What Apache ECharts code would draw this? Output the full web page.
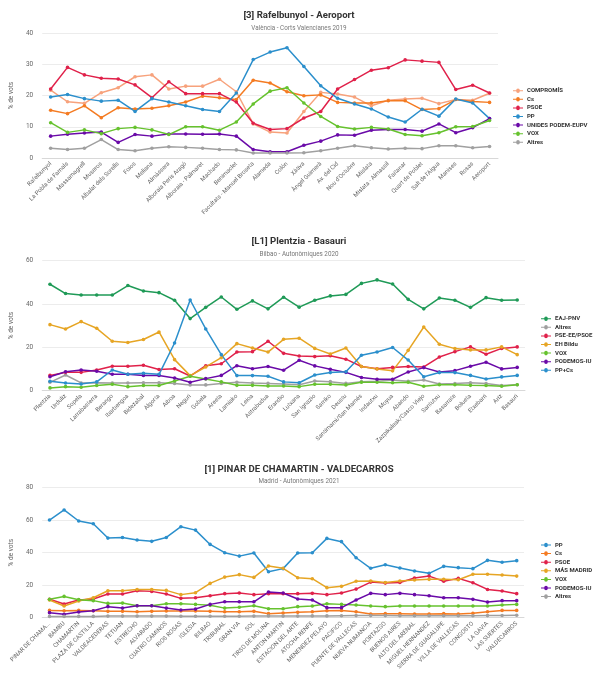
<!DOCTYPE html>
<html><head><meta charset="utf-8">
<script src="https://cdn.jsdelivr.net/npm/echarts@6/dist/echarts.min.js"></script>
<style>html,body{margin:0;padding:0;background:#fff;width:598px;height:680px;overflow:hidden}
.c{position:absolute;left:0;width:598px}</style>
</head><body>
<div id="c1" class="c" style="top:0;height:226px"></div>
<div id="c2" class="c" style="top:226px;height:228px"></div>
<div id="c3" class="c" style="top:454px;height:226px"></div>
<script>
// ---------- Chart 1 data ----------
const c1Cats = ['Rafelbunyol','La Pobla de Farnals','Massamagrell','Museros','Albalat dels Sorells','Foios','Meliana','Almàssera','Alboraia Peris Aragó','Alboraia - Palmaret','Machado','Benimaclet','Facultats - Manuel Broseta','Alameda','Colón','Xàtiva','Àngel Guimerà','Av. del Cid',"Nou d'Octubre",'Mislata','Mislata - Almassil','Faitanar','Quart de Poblet',"Salt de l'Aigua",'Manises','Rosas','Aeroport'];
const c1Compromis = [21.7,18.0,17.5,20.9,22.5,26.0,26.6,22.1,23.0,23.0,25.2,21.2,10.9,8.3,8.0,14.9,21.0,20.5,19.5,16.7,18.5,18.9,19.1,17.4,18.7,18.5,20.7];
const c1Cs = [15.3,14.2,16.7,12.9,16.1,15.7,15.9,16.7,17.9,19.8,19.3,18.7,24.9,24.0,21.2,19.9,20.2,17.8,17.6,17.6,18.3,18.3,15.5,15.8,18.7,18.1,17.8];
const c1Psoe = [22.1,29.0,26.6,25.5,25.3,23.4,19.3,24.4,20.6,20.6,20.6,17.9,11.1,9.1,9.4,12.8,14.9,22.1,25.1,28.1,28.9,31.4,31.0,30.6,21.9,23.3,20.8];
const c1Pp = [19.5,20.3,19.0,18.2,18.5,14.9,19.0,17.9,16.7,15.5,14.9,20.8,31.5,33.9,35.3,29.3,23.1,19.1,17.3,15.7,13.1,11.5,15.6,13.4,18.9,17.6,12.6];
const c1Unides = [7.0,7.6,8.0,8.3,5.0,7.5,7.0,7.7,7.7,7.6,7.7,7.0,2.7,2.0,2.0,4.1,5.4,7.4,7.3,8.9,9.1,9.1,8.6,10.9,8.1,9.7,12.6];
const c1Vox = [11.3,8.2,9.0,7.8,9.4,9.8,9.0,7.5,10.0,10.0,8.9,11.5,17.3,21.4,22.5,17.6,13.3,10.1,9.3,9.8,9.3,7.5,7.1,8.1,10.0,10.1,12.0];
const c1Altres = [3.1,2.7,3.1,5.9,2.7,2.3,3.1,3.6,3.4,3.1,2.7,2.6,1.6,1.6,1.6,1.7,2.3,3.1,3.9,3.3,2.9,3.1,3.0,3.9,3.9,3.3,3.7];

// ---------- Chart 2 data ----------
const c2Cats = ['Plentzia','Urduliz','Sopela','Larrabasterra','Berango','Ibarbengoa','Bidezabal','Algorta','Aiboa','Neguri','Gobela','Areeta','Lamiako','Leioa','Astrabudua','Erandio','Lutxana','San Ignazio','Sarriko','Deustu','Santimami/San Mamés','Indautxu','Moyua','Abando','Zazpikaleak/Casco Viejo','Santutxu','Basarrate','Bolueta','Etxebarri','Ariz','Basauri'];
const c2Eaj = [49.1,44.8,44.1,44.1,44.1,48.5,46.0,45.2,41.7,33.2,38.4,43.2,37.5,41.4,37.7,43.1,38.5,41.7,43.7,44.4,49.5,51.1,49.2,42.1,37.7,42.7,41.7,38.4,42.9,41.7,41.8];
const c2Altres = [3.7,7.1,3.4,3.5,3.4,3.4,3.5,3.5,3.2,2.5,2.5,3.2,3.7,3.4,3.2,2.9,2.6,4.3,4.0,3.2,4.0,4.2,4.8,4.2,4.8,2.9,3.1,3.5,3.1,2.2,2.6];
const c2Pse = [6.9,8.3,8.3,9.4,11.1,11.1,11.6,9.6,10.0,6.6,11.4,12.3,17.7,17.9,22.7,17.1,15.9,15.6,16.0,14.4,11.0,10.0,10.6,11.0,10.8,15.4,17.9,20.1,16.7,19.4,20.1];
const c2Bildu = [30.4,28.4,31.8,28.7,22.7,22.1,23.5,27.0,14.2,6.8,10.8,15.1,21.6,19.6,17.7,23.6,24.1,19.4,16.8,19.6,11.0,9.9,9.0,18.5,29.3,21.3,19.3,18.7,18.7,20.1,16.5];
const c2Vox = [1.1,1.7,1.4,2.2,2.8,1.7,2.2,2.2,4.3,6.5,5.2,3.9,2.3,2.3,2.0,2.0,1.7,2.8,2.8,2.5,3.7,3.7,3.5,3.7,1.9,2.6,2.6,2.3,2.2,1.9,2.6];
const c2Podemos = [6.3,8.6,9.4,8.8,7.4,7.4,6.9,6.9,5.7,3.7,5.4,6.9,11.4,10.0,11.0,9.3,13.9,11.3,9.7,8.3,5.9,5.1,5.1,8.5,10.5,8.5,9.1,11.1,13.0,9.9,10.6];
const c2PpCs = [4.2,3.4,2.9,3.9,9.4,7.4,7.9,7.4,21.9,41.8,28.4,16.5,6.8,6.8,6.5,3.9,3.5,7.1,8.2,8.6,16.2,17.7,19.8,14.0,6.3,8.2,8.2,6.9,5.2,6.2,6.9];

// ---------- Chart 3 data ----------
const c3Cats = ['PINAR DE CHAMA...','BAMBU','CHAMARTIN','PLAZA DE CASTILLA','VALDEACEDERAS','TETUAN','ESTRECHO','ALVARADO','CUATRO CAMINOS','RIOS ROSAS','IGLESIA','BILBAO','TRIBUNAL','GRAN VIA','SOL','TIRSO DE MOLINA','ANTON MARTIN','ESTACION DEL ARTE','ATOCHA RENFE','MENENDEZ PELAYO','PACIFICO','PUENTE DE VALLECAS','NUEVA NUMANCIA','PORTAZGO','BUENOS AIRES','ALTO DEL ARENAL','MIGUEL HERNANDEZ','SIERRA DE GUADALUPE','VILLA DE VALLECAS','CONGOSTO','LA GAVIA','LAS SUERTES','VALDECARROS'];
const c3Pp = [60.1,66.3,59.5,57.8,49.0,49.4,47.8,47.0,49.4,56.0,53.9,45.1,40.0,37.9,39.8,28.3,30.2,39.8,40.0,48.8,46.8,36.9,30.4,32.6,30.6,28.7,27.3,31.6,30.8,30.2,35.3,34.1,35.1];
const c3Cs = [4.5,4.3,4.5,4.3,3.9,3.9,3.7,3.9,4.1,4.1,4.1,3.9,3.7,3.7,3.9,2.5,2.9,3.3,3.7,4.3,4.5,3.7,2.3,2.5,2.5,2.3,2.3,2.5,2.3,2.7,3.7,4.5,4.5];
const c3Psoe = [11.3,8.4,10.9,11.5,14.6,14.6,16.6,16.2,14.6,11.9,12.3,13.5,14.8,15.2,14.2,14.8,14.8,14.8,15.0,14.2,15.2,17.6,21.9,21.3,21.7,24.4,25.6,22.4,24.2,21.5,17.4,16.4,14.8];
const c3Mas = [10.9,7.2,10.3,12.3,16.6,16.6,17.4,17.4,16.8,14.2,15.4,21.1,25.0,26.5,24.8,31.8,30.4,24.6,24.0,18.5,19.3,22.4,22.6,21.7,22.6,23.2,23.6,23.6,23.4,26.7,26.7,26.3,25.6];
const c3Vox = [11.3,13.1,11.1,10.5,8.8,9.0,7.4,7.4,8.6,8.6,8.2,7.6,5.9,6.4,7.4,5.5,5.5,6.8,7.2,8.6,8.2,7.8,7.2,6.8,7.2,7.2,7.2,7.2,7.2,7.2,7.2,7.8,8.2];
const c3Podemos = [3.1,2.1,3.5,4.3,6.8,5.9,7.4,7.4,5.9,4.7,5.3,8.2,9.8,9.8,9.8,15.8,15.2,11.5,10.9,6.2,6.2,10.9,15.0,14.2,15.0,14.2,13.5,12.3,12.3,11.3,9.6,10.5,10.5];
const c3Altres = [0.8,0.8,0.8,0.8,1.0,1.0,1.0,1.0,1.0,0.9,0.9,0.9,0.9,0.9,1.0,1.1,1.0,1.0,1.1,1.1,1.2,1.3,1.3,1.3,1.2,1.2,1.2,1.2,1.2,1.2,1.3,1.4,1.5];

const FONT = 'Roboto, "Noto Sans", sans-serif';
const COL = {
  compromis:'#f7a27c', cs:'#f47b22', psoe:'#e0214a', pp:'#2b8fcc', podem:'#6a0aa8',
  vox:'#66c22e', altres:'#a0a0a0', eaj:'#1f9a57', bildu:'#e6a524'
};

function build(cfg){
  const series = cfg.series.map(s => ({
    name: s.name, type:'line', data: s.data, color: s.color,
    symbol:'circle', symbolSize:3.6, showSymbol:true,
    lineStyle:{width:1.5, color:s.color}, itemStyle:{color:s.color},
    animation:false
  }));
  return {
    animation:false,
    textStyle:{fontFamily:FONT},
    title:[
      {text:cfg.title, left:'center', top:cfg.titleTop,
       textStyle:{fontSize:9.6, fontWeight:'bold', color:'#333', fontFamily:FONT}},
      {text:cfg.sub, left:'center', top:cfg.subTop,
       textStyle:{fontSize:6.3, fontWeight:'normal', color:'#777', fontFamily:FONT}}
    ],
    legend:{
      orient:'vertical', left:cfg.legLeft, top:cfg.legTop,
      itemWidth:10, itemHeight:6, itemGap:2.6,
      icon:'path://M0,2.5 L3.2,2.5 A1.8,1.8 0 1 1 6.8,2.5 L10,2.5 L10,3.5 L6.8,3.5 A1.8,1.8 0 1 1 3.2,3.5 L0,3.5 Z',
      textStyle:{fontSize:6, fontWeight:'bold', color:'#333', lineHeight:6, padding:[0,0,0,-1], fontFamily:FONT},
      data: cfg.series.map(s=>s.name)
    },
    grid:{left:cfg.grid.left, right:cfg.grid.right, top:cfg.grid.top, height:cfg.grid.height, containLabel:false},
    xAxis:{
      type:'category', data:cfg.cats, boundaryGap:true,
      axisLine:{lineStyle:{color:'#d8d8d8', width:1}},
      axisTick:{show:false},
      axisLabel:{interval:0, rotate:45, fontSize:6, color:'#666', margin:5, fontFamily:FONT}
    },
    yAxis:{
      type:'value', min:0, max:cfg.ymax, interval:cfg.yint,
      name:'% de vots', nameLocation:'middle', nameGap:25, nameRotate:90,
      nameTextStyle:{fontSize:6.5, color:'#666', fontFamily:FONT},
      axisLine:{show:false}, axisTick:{show:false},
      axisLabel:{fontSize:6.5, color:'#666', margin:9, fontFamily:FONT},
      splitLine:{lineStyle:{color:'#ececec', width:1}}
    },
    series
  };
}

const ch1 = echarts.init(document.getElementById('c1'), null, {renderer:'canvas'});
ch1.setOption(build({
  title:'[3] Rafelbunyol - Aeroport', sub:'València - Corts Valencianes 2019',
  titleTop:5.8, subTop:20.2,
  legLeft:508, legTop:82.7,
  grid:{left:35, right:100, top:33, height:125},
  cats:c1Cats, ymax:40, yint:10,
  series:[
    {name:'COMPROMÍS', data:c1Compromis, color:COL.compromis},
    {name:'Cs', data:c1Cs, color:COL.cs},
    {name:'PSOE', data:c1Psoe, color:COL.psoe},
    {name:'PP', data:c1Pp, color:COL.pp},
    {name:'UNIDES PODEM-EUPV', data:c1Unides, color:COL.podem},
    {name:'VOX', data:c1Vox, color:COL.vox},
    {name:'Altres', data:c1Altres, color:COL.altres}
  ]
}));

const ch2 = echarts.init(document.getElementById('c2'), null, {renderer:'canvas'});
ch2.setOption(build({
  title:'[L1] Plentzia - Basauri', sub:'Bilbao - Autonòmiques 2020',
  titleTop:6, subTop:20.2,
  legLeft:536, legTop:84.7,
  grid:{left:35, right:73, top:34.7, height:129.6},
  cats:c2Cats, ymax:60, yint:20,
  series:[
    {name:'EAJ-PNV', data:c2Eaj, color:COL.eaj},
    {name:'Altres', data:c2Altres, color:COL.altres},
    {name:'PSE-EE/PSOE', data:c2Pse, color:COL.psoe},
    {name:'EH Bildu', data:c2Bildu, color:COL.bildu},
    {name:'VOX', data:c2Vox, color:COL.vox},
    {name:'PODEMOS-IU', data:c2Podemos, color:COL.podem},
    {name:'PP+Cs', data:c2PpCs, color:COL.pp}
  ]
}));

const ch3 = echarts.init(document.getElementById('c3'), null, {renderer:'canvas'});
ch3.setOption(build({
  title:'[1] PINAR DE CHAMARTIN - VALDECARROS', sub:'Madrid - Autonòmiques 2021',
  titleTop:5.2, subTop:19.6,
  legLeft:536, legTop:83,
  grid:{left:34.3, right:74, top:33.7, height:130},
  cats:c3Cats, ymax:80, yint:20,
  series:[
    {name:'PP', data:c3Pp, color:COL.pp},
    {name:'Cs', data:c3Cs, color:COL.cs},
    {name:'PSOE', data:c3Psoe, color:COL.psoe},
    {name:'MÁS MADRID', data:c3Mas, color:COL.bildu},
    {name:'VOX', data:c3Vox, color:COL.vox},
    {name:'PODEMOS-IU', data:c3Podemos, color:COL.podem},
    {name:'Altres', data:c3Altres, color:COL.altres}
  ]
}));
</script>
</body></html>
